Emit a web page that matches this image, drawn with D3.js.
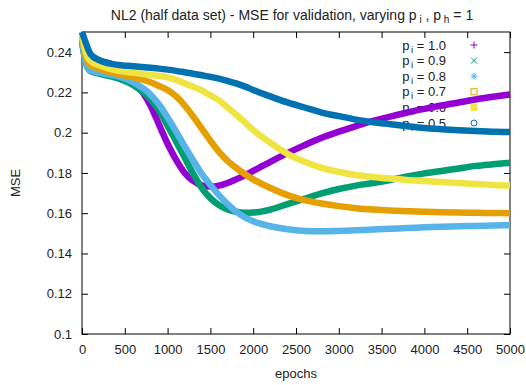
<!DOCTYPE html>
<html>
<head>
<meta charset="utf-8">
<script src="https://cdn.jsdelivr.net/npm/d3@7"></script>
<style>
  body { margin: 0; background: #fff; }
  svg { display: block; }
  text { font-family: "Liberation Sans", Arial, sans-serif; fill: #222; }
</style>
</head>
<body>
<svg id="chart" width="526" height="385"></svg>
<script>
const epochs = [0,50,100,200,400,600,800,900,1000,1100,1200,1300,1400,1500,1600,1700,1800,1900,2000,2200,2400,2600,2800,3000,3200,3400,3600,3800,4000,4200,4400,4600,4800,5000];

const pi10 = [0.245,0.238,0.2370,0.2358,0.2330,0.2260,0.2135,0.2040,0.1945,0.1865,0.1800,0.1760,0.1738,0.1732,0.1737,0.1750,0.1768,0.1788,0.1810,0.1855,0.1898,0.1938,0.1975,0.2005,0.2033,0.2058,0.2080,0.2100,0.2118,0.2135,0.2150,0.2165,0.2178,0.2190];
const pi09 = [0.245,0.234,0.2305,0.2293,0.2272,0.2235,0.2165,0.2110,0.2035,0.1955,0.1875,0.1795,0.1725,0.1675,0.1640,0.1618,0.1607,0.1602,0.1603,0.1618,0.1645,0.1672,0.1698,0.1720,0.1737,0.1750,0.1765,0.1783,0.1798,0.1810,0.1822,0.1835,0.1843,0.1850];
const pi08 = [0.246,0.234,0.2308,0.2298,0.2282,0.2250,0.2190,0.2140,0.2075,0.2005,0.1932,0.1862,0.1795,0.1740,0.1690,0.1645,0.1608,0.1580,0.1560,0.1535,0.1520,0.1512,0.1510,0.1512,0.1515,0.1519,0.1523,0.1526,0.1530,0.1533,0.1535,0.1537,0.1539,0.1540];
const pi07 = [0.248,0.237,0.2335,0.2318,0.2293,0.2275,0.2250,0.2232,0.2212,0.2180,0.2135,0.2080,0.2020,0.1960,0.1905,0.1860,0.1825,0.1795,0.1768,0.1725,0.1690,0.1665,0.1648,0.1635,0.1625,0.1618,0.1613,0.1610,0.1607,0.1605,0.1603,0.1602,0.1601,0.1600];
const pi06 = [0.249,0.239,0.2355,0.2335,0.2310,0.2297,0.2287,0.2282,0.2275,0.2262,0.2245,0.2228,0.2210,0.2185,0.2160,0.2125,0.2090,0.2052,0.2013,0.1950,0.1895,0.1855,0.1825,0.1805,0.1790,0.1780,0.1772,0.1765,0.1760,0.1755,0.1750,0.1745,0.1740,0.1737];
const pi05 = [0.250,0.244,0.239,0.236,0.2338,0.2330,0.2322,0.2318,0.2313,0.2307,0.2300,0.2293,0.2285,0.2277,0.2268,0.2257,0.2245,0.2230,0.2212,0.2180,0.2150,0.2125,0.2100,0.2082,0.2065,0.2052,0.2042,0.2032,0.2023,0.2017,0.2012,0.2008,0.2005,0.2003];

const seriesLabels = ["1.0","0.9","0.8","0.7","0.6","0.5"];
const seriesValues = [pi10, pi09, pi08, pi07, pi06, pi05];
const seriesColors = ["#9400d3","#009e73","#56b4e9","#e69f00","#f0e442","#0072b2"];
const seriesSymbols = ["plus","cross","star","square","fsquare","circle"];

const xTicks = [0,500,1000,1500,2000,2500,3000,3500,4000,4500,5000];
const yTicks = [0.1,0.12,0.14,0.16,0.18,0.2,0.22,0.24];

const svg = d3.select("#chart");
const L = 82, R = 510, T = 32, B = 334;
const x = d3.scaleLinear().domain([0,5000]).range([L,R]);
const y = d3.scaleLinear().domain([0.1,0.25]).range([B,T]);

// title
const title = svg.append("text").attr("x", 292).attr("y", 20).attr("text-anchor","middle").style("font-size","14px");
title.append("tspan").text("NL2 (half data set) - MSE for validation, varying p");
title.append("tspan").attr("dy", 3).style("font-size","10px").text(" i");
title.append("tspan").attr("dy", -3).text(" , p");
title.append("tspan").attr("dy", 3).style("font-size","10px").text(" h");
title.append("tspan").attr("dy", -3).text(" = 1");

// axes ticks (inward, mirrored)
const tl = 6;
const gB = svg.append("g").attr("transform",`translate(0,${B})`)
  .call(d3.axisBottom(x).tickValues(xTicks).tickSizeInner(-tl).tickSizeOuter(0).tickPadding(11).tickFormat(d3.format("d")));
const gT = svg.append("g").attr("transform",`translate(0,${T})`)
  .call(d3.axisTop(x).tickValues(xTicks).tickSizeInner(-tl).tickSizeOuter(0).tickFormat(""));
const gL = svg.append("g").attr("transform",`translate(${L},0)`)
  .call(d3.axisLeft(y).tickValues(yTicks).tickSizeInner(-tl).tickSizeOuter(0).tickPadding(10).tickFormat(d => String(+d.toFixed(2))));
const gR = svg.append("g").attr("transform",`translate(${R},0)`)
  .call(d3.axisRight(y).tickValues(yTicks).tickSizeInner(-tl).tickSizeOuter(0).tickFormat(""));
[gB,gT,gL,gR].forEach(g => {
  g.select(".domain").remove();
  g.selectAll("line").attr("stroke","#000");
  g.selectAll("text").style("font-size","13px").style("fill","#222").attr("font-family",null);
});

svg.append("rect").attr("x",L).attr("y",T).attr("width",R-L).attr("height",B-T)
  .attr("fill","none").attr("stroke","#000").attr("stroke-width",1);

// axis labels
svg.append("text").attr("x",296).attr("y",378).attr("text-anchor","middle").style("font-size","13px").text("epochs");
svg.append("text").attr("transform","translate(20,183) rotate(-90)").attr("text-anchor","middle").style("font-size","13px").text("MSE");

// legend (drawn before curves, as in the original)
const legX = 446, symX = 474, legY0 = 45, legDy = 15.6;
seriesLabels.forEach((lab, i) => {
  const yy = legY0 + i*legDy;
  const t = svg.append("text").attr("x", legX).attr("y", yy+4.5).attr("text-anchor","end").style("font-size","13px");
  t.append("tspan").text("p");
  t.append("tspan").attr("dy",3).attr("dx",1.5).style("font-size","9.5px").text("i");
  t.append("tspan").attr("dy",-3).text(" = " + lab);
  const c = seriesColors[i], s = seriesSymbols[i];
  const g = svg.append("g").attr("transform",`translate(${symX},${yy})`).attr("stroke",c).attr("fill","none").attr("stroke-width",1);
  if (s === "plus") { g.append("path").attr("d","M-3.5,0H3.5M0,-3.5V3.5"); }
  else if (s === "cross") { g.append("path").attr("d","M-3,-3L3,3M-3,3L3,-3"); }
  else if (s === "star") { g.append("path").attr("d","M-3.5,0H3.5M0,-3.5V3.5M-2.5,-2.5L2.5,2.5M-2.5,2.5L2.5,-2.5"); }
  else if (s === "square") { g.append("rect").attr("x",-3).attr("y",-3).attr("width",6).attr("height",6); }
  else if (s === "fsquare") { g.append("rect").attr("x",-3.5).attr("y",-3.5).attr("width",7).attr("height",7).attr("fill",c).attr("stroke","none"); }
  else if (s === "circle") { g.append("circle").attr("r",3); }
});

// curves
const line = d3.line().x(d => x(d[0])).y(d => y(d[1])).curve(d3.curveMonotoneX);
seriesValues.forEach((vals, i) => {
  svg.append("path")
    .datum(epochs.map((e, j) => [e, vals[j]]))
    .attr("d", line)
    .attr("fill","none")
    .attr("stroke", seriesColors[i])
    .attr("stroke-width", 6.5)
    .attr("stroke-linejoin","round");
});
</script>
</body>
</html>
